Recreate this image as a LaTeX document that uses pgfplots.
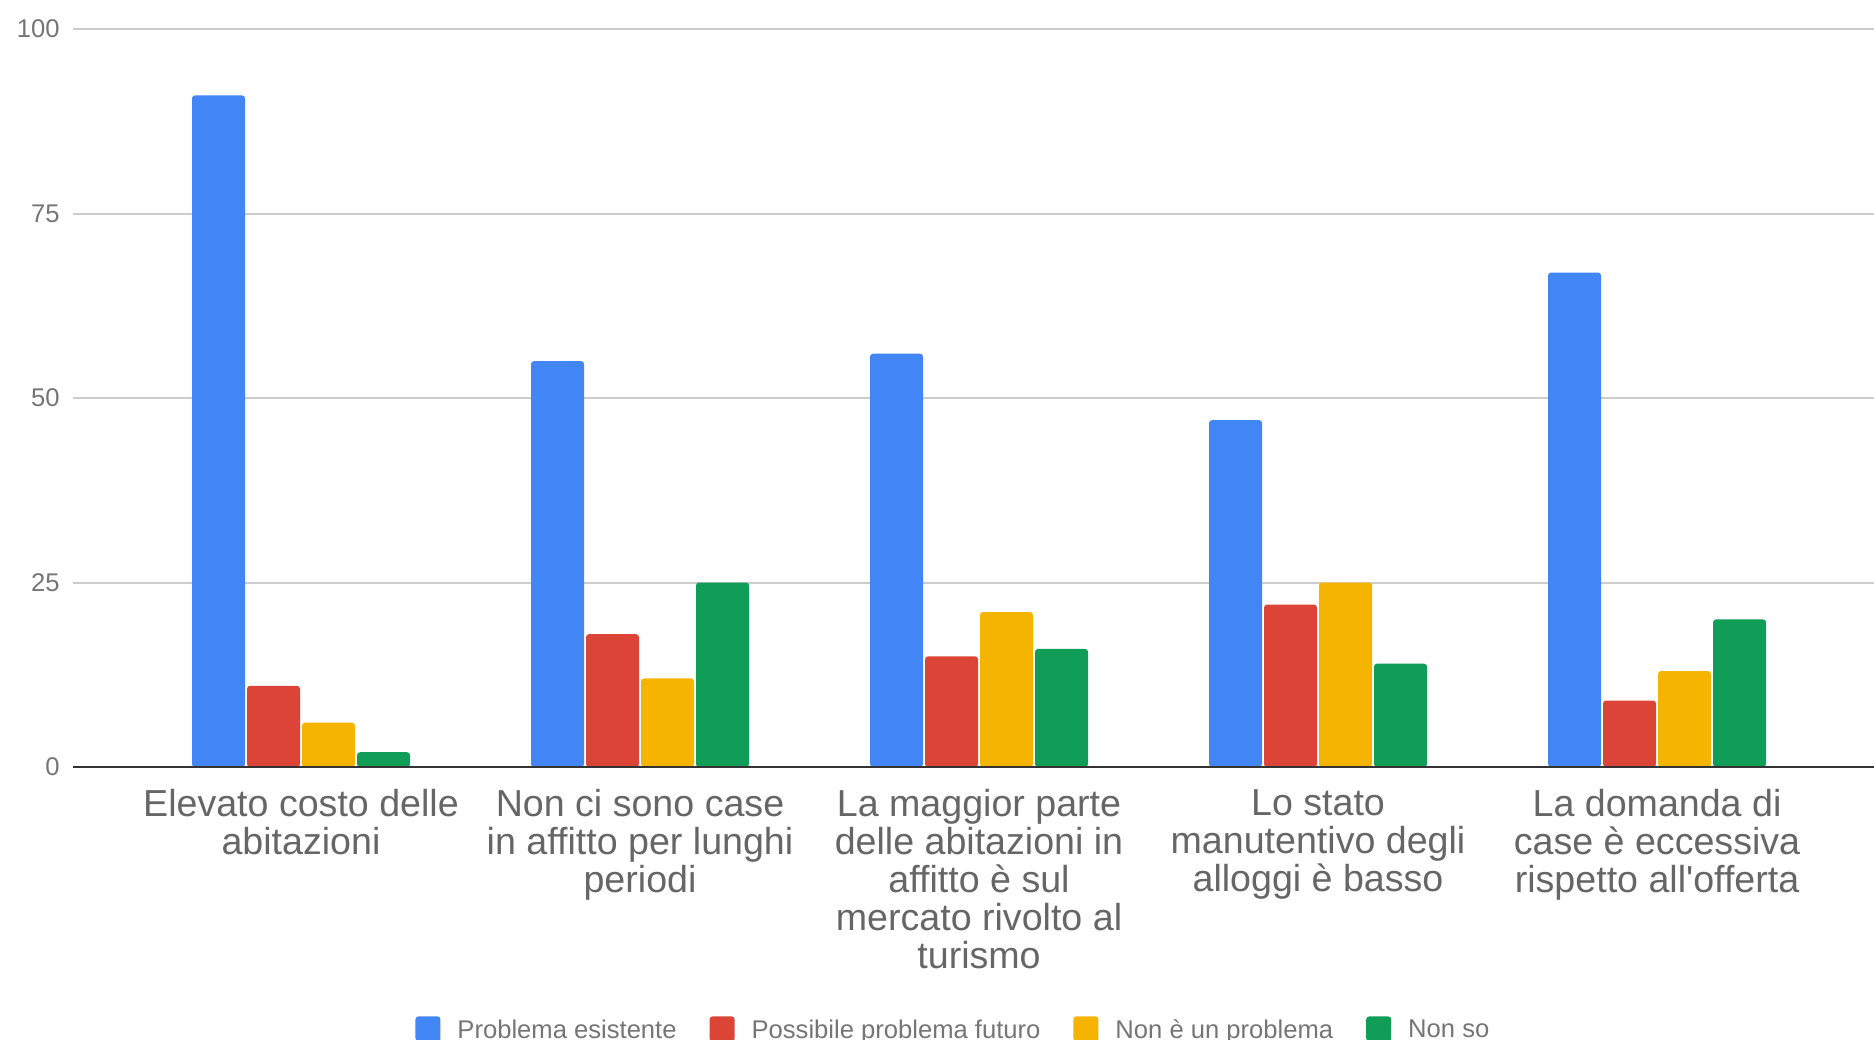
\documentclass[border=0pt]{standalone}
\usepackage{fontspec}
\setmainfont{Liberation Sans}
\usepackage{pgfplots}
\pgfplotsset{compat=1.18}
\definecolor{cblue}{HTML}{4285F4}
\definecolor{cred}{HTML}{DB4437}
\definecolor{cyellow}{HTML}{F4B400}
\definecolor{cgreen}{HTML}{0F9D58}
\definecolor{gridgray}{HTML}{CCCCCC}
\definecolor{axisdark}{HTML}{333333}
\definecolor{tickgray}{HTML}{757575}
\definecolor{labgray}{HTML}{666666}
\begin{document}
\begin{tikzpicture}
\useasboundingbox (-36.5pt,-136pt) rectangle (900.5pt,383.5pt);
\clip (-36.5pt,-136pt) rectangle (900.5pt,383.5pt);
\begin{axis}[
  scale only axis, width=900.5pt, height=369pt,
  at={(0pt,0pt)}, anchor=south west,
  xmin=-0.6726, xmax=4.640, ymin=0, ymax=100,
  ybar=1pt, bar width=26.5pt,
  xtick={0,1,2,3,4},
  xticklabels={
    {Elevato costo delle\\abitazioni},
    {Non ci sono case\\in affitto per lunghi\\periodi},
    {La maggior parte\\delle abitazioni in\\affitto è sul\\mercato rivolto al\\turismo},
    {Lo stato\\manutentivo degli\\alloggi è basso},
    {La domanda di\\case è eccessiva\\rispetto all\textquotesingle offerta}},
  ytick={0,25,50,75,100},
  ymajorgrids, grid style={color=gridgray, line width=1pt},
  axis line style={draw=none},
  major tick length=0pt,
  /pgf/number format/assume math mode=true,
  yticklabel style={font=\fontsize{12.8}{14}\selectfont, text=tickgray, anchor=east, inner sep=0pt, xshift=-6.5pt},
  xticklabel style={font=\fontsize{18.8}{19}\selectfont, text=labgray, align=center, anchor=north, inner sep=0pt, yshift=-11pt},
  legend columns=4,
  legend cell align=left,
  legend image code/.code={\fill[#1,draw=none] (0pt,-5.5pt) rectangle (12.5pt,7pt);},
  legend style={draw=none, fill=none, at={(0.4883,0)}, anchor=north, yshift=-122.5pt,
    font=\fontsize{12.8}{14}\selectfont, text=tickgray,
    nodes={inner sep=0pt},
    /tikz/every odd column/.append style={column sep=8.5pt},
    /tikz/every even column/.append style={column sep=16.5pt}},
]
\addplot[fill=cblue, draw=none, rounded corners=1.5pt] coordinates {(0,91) (1,55) (2,56) (3,47) (4,67)};
\addlegendentry{Problema esistente}
\addplot[fill=cred, draw=none, rounded corners=1.5pt] coordinates {(0,11) (1,18) (2,15) (3,22) (4,9)};
\addlegendentry{Possibile problema futuro}
\addplot[fill=cyellow, draw=none, rounded corners=1.5pt] coordinates {(0,6) (1,12) (2,21) (3,25) (4,13)};
\addlegendentry{Non è un problema}
\addplot[fill=cgreen, draw=none, rounded corners=1.5pt] coordinates {(0,2) (1,25) (2,16) (3,14) (4,20)};
\addlegendentry{Non so}
\draw[color=axisdark, line width=1pt] (rel axis cs:0,0) -- (rel axis cs:1,0);
\end{axis}
\end{tikzpicture}
\end{document}
